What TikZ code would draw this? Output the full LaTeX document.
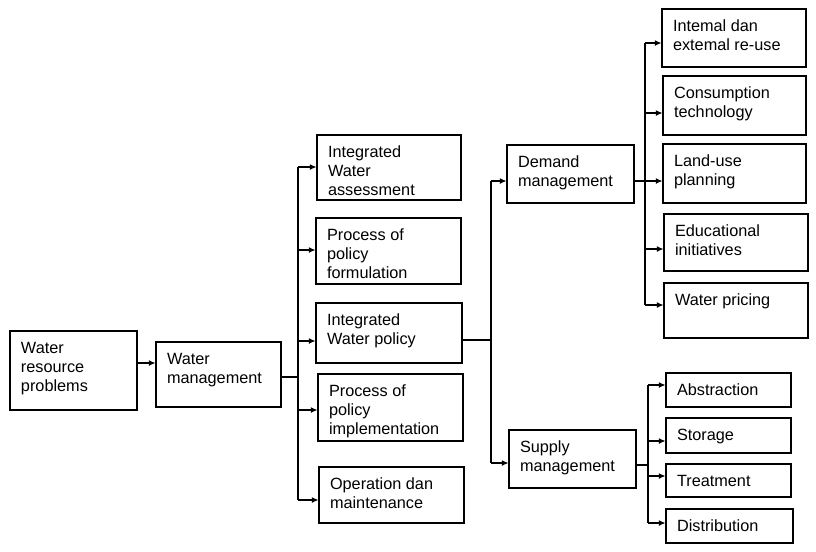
\documentclass[tikz,border=0pt]{standalone}
\usepackage{fontspec}
\setmainfont{Liberation Sans}
\usetikzlibrary{arrows.meta,fit}
\newcommand\mybox[6]{%
  \node[box, fit={(#2,#3) (#4,#5)}] (#1) {};
  \node[lbl] (#1-t) at ([shift={(11,11)}]#1.north west) {#6};}
\begin{document}
\begin{tikzpicture}[x=0.75pt,y=-0.75pt,line width=0.8pt,
  box/.style={draw, inner sep=0pt, line width=0.8pt},
  lbl/.style={anchor=north west, inner sep=0pt, align=left, font=\fontsize{12.2}{14.3}\selectfont},
  arr/.style={-{Latex[length=5pt,width=4.5pt]}}]
\useasboundingbox (0,0) rectangle (816,551);

\mybox{wrp}{10}{331}{137}{410}{Water\\resource\\problems}
\mybox{wm}{156}{342}{281}{407}{Water\\management}
\mybox{iwa}{317}{135}{461}{200}{Integrated\\Water\\assessment}
\mybox{ppf}{316}{218}{461}{284}{Process of\\policy\\formulation}
\mybox{iwp}{316}{303}{462}{363}{Integrated\\Water policy}
\mybox{ppi}{318}{374}{463}{441}{Process of\\policy\\implementation}
\mybox{odm}{319}{467}{464}{523}{Operation dan\\maintenance}
\mybox{dm}{507}{145}{634}{203}{Demand\\management}
\mybox{sm}{509}{430}{636}{488}{Supply\\management}
\mybox{ier}{662}{9}{806}{67}{Intemal dan\\extemal re-use}
\mybox{ct}{663}{76}{806}{135}{Consumption\\technology}
\mybox{lup}{663}{144}{806}{203}{Land-use\\planning}
\mybox{ei}{664}{214}{808}{271}{Educational\\initiatives}
\mybox{wp}{664}{283}{808}{338}{Water pricing}
\mybox{ab}{666}{373}{791}{407}{Abstraction}
\mybox{st}{666}{418}{791}{453}{Storage}
\mybox{tr}{666}{464}{791}{497}{Treatment}
\mybox{di}{666}{509}{793}{543}{Distribution}

\coordinate (t1) at (298,0);
\coordinate (t2) at (491,0);
\coordinate (t3) at (645,0);
\coordinate (t4) at (648,0);

% level 1
\draw[arr] (wrp.east |- 0,363) -- (wm.west |- 0,363);
\draw (wm.east |- 0,377) -- (t1 |- 0,377);
\draw (t1 |- 0,167) -- (t1 |- 0,500);
\draw[arr] (t1 |- 0,167) -- (iwa.west |- 0,167);
\draw[arr] (t1 |- 0,250) -- (ppf.west |- 0,250);
\draw[arr] (t1 |- 0,341) -- (iwp.west |- 0,341);
\draw[arr] (t1 |- 0,410) -- (ppi.west |- 0,410);
\draw[arr] (t1 |- 0,500) -- (odm.west |- 0,500);

% level 2
\draw (iwp.east |- 0,340) -- (t2 |- 0,340);
\draw (t2 |- 0,181) -- (t2 |- 0,463);
\draw[arr] (t2 |- 0,181) -- (dm.west |- 0,181);
\draw[arr] (t2 |- 0,463) -- (sm.west |- 0,463);

% demand
\draw (dm.east |- 0,181) -- (t3 |- 0,181);
\draw (t3 |- 0,43) -- (t3 |- 0,305);
\draw[arr] (t3 |- 0,43) -- (ier.west |- 0,43);
\draw[arr] (t3 |- 0,113) -- (ct.west |- 0,113);
\draw[arr] (t3 |- 0,181) -- (lup.west |- 0,181);
\draw[arr] (t3 |- 0,249) -- (ei.west |- 0,249);
\draw[arr] (t3 |- 0,305) -- (wp.west |- 0,305);

% supply
\draw (sm.east |- 0,465) -- (t4 |- 0,465);
\draw (t4 |- 0,385) -- (t4 |- 0,523);
\draw[arr] (t4 |- 0,385) -- (ab.west |- 0,385);
\draw[arr] (t4 |- 0,441) -- (st.west |- 0,441);
\draw[arr] (t4 |- 0,476) -- (tr.west |- 0,476);
\draw[arr] (t4 |- 0,523) -- (di.west |- 0,523);
\end{tikzpicture}
\end{document}
